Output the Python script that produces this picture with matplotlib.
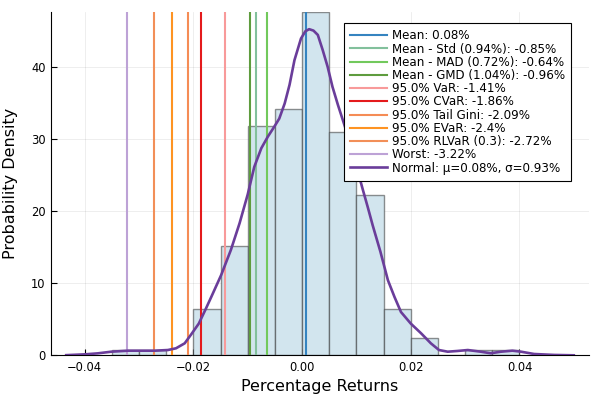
import matplotlib
matplotlib.use("Agg")
import matplotlib.pyplot as plt

# Histogram (bin edges start at -0.035, width 0.005), density values
bin_left = [-0.035, -0.030, -0.025, -0.020, -0.015, -0.010, -0.005, 0.000,
            0.005, 0.010, 0.015, 0.020, 0.025, 0.030, 0.035]
bin_width = 0.005
density = [0.79, 0.79, 0.0, 6.35, 15.08, 31.75, 34.13, 47.62,
           30.95, 22.22, 6.35, 2.38, 0.0, 0.79, 0.79]

# Risk measure lines
risk_labels = ["Mean: 0.08%", "Mean - Std (0.94%): -0.85%", "Mean - MAD (0.72%): -0.64%",
               "Mean - GMD (1.04%): -0.96%", "95.0% VaR: -1.41%", "95.0% CVaR: -1.86%",
               "95.0% Tail Gini: -2.09%", "95.0% EVaR: -2.4%", "95.0% RLVaR (0.3): -2.72%",
               "Worst: -3.22%"]
risk_values = [0.0008, -0.0085, -0.0064, -0.0096, -0.0141, -0.0186,
               -0.0209, -0.0240, -0.0272, -0.0322]
risk_colors = ["#3584c0", "#82c09c", "#72c95c", "#5e9c3e", "#f89a9a", "#e41a1c",
               "#f58c55", "#fe9322", "#f28f58", "#bda2d6"]

# Density curve
kde_x = [-0.0434, -0.0400, -0.0376, -0.0351, -0.0320, -0.0296, -0.0271, -0.0247, -0.0232,
         -0.0216, -0.0204, -0.0190, -0.0178, -0.0167, -0.0149, -0.0131, -0.0115, -0.0100,
         -0.0088, -0.0075, -0.0063, -0.0051, -0.0042, -0.0032, -0.0023, -0.0014, -0.0002,
         0.0006, 0.0013, 0.0021, 0.0029, 0.0038, 0.0047, 0.0056, 0.0066, 0.0075, 0.0081,
         0.0090, 0.0100, 0.0112, 0.0121, 0.0130, 0.0144, 0.0158, 0.0170, 0.0182, 0.0200,
         0.0219, 0.0237, 0.0252, 0.0268, 0.0286, 0.0305, 0.0329, 0.0347, 0.0366, 0.0387,
         0.0403, 0.0427, 0.0464, 0.0500]
kde_y = [0.02, 0.13, 0.27, 0.50, 0.64, 0.64, 0.64, 0.73, 0.97,
         1.66, 2.90, 4.40, 6.30, 8.10, 11.1, 14.6, 18.3, 22.3,
         26.1, 28.7, 30.3, 31.7, 32.8, 34.9, 37.5, 40.9, 43.9,
         44.9, 45.2, 45.0, 44.4, 42.3, 40.0, 37.2, 34.7, 32.6, 31.2,
         28.9, 26.2, 22.9, 20.5, 18.0, 14.4, 10.4, 8.1, 6.0, 4.4,
         3.05, 1.66, 0.73, 0.50, 0.60, 0.73, 0.50, 0.28, 0.50, 0.64,
         0.50, 0.18, 0.05, 0.0]
kde_label = "Normal: μ=0.08%, σ=0.93%"
kde_color = "#6a3d9a"

x_ticks = [-0.04, -0.02, 0.00, 0.02, 0.04]
y_ticks = [0, 10, 20, 30, 40]

plt.rcParams["font.family"] = ["DejaVu Sans"]

fig = plt.figure(figsize=(6, 4), dpi=100)
ax = fig.add_axes([51 / 600, 1 - 355.3 / 400, (589 - 51) / 600, (355.3 - 11.7) / 400])

ax.bar(bin_left, density, width=bin_width, align="edge", color="#d2e5ee",
       edgecolor=(0.15, 0.15, 0.15, 0.5), linewidth=1.0, zorder=2)

for val, lab, col in zip(risk_values, risk_labels, risk_colors):
    ax.axvline(val, color=col, linewidth=1.5, label=lab, zorder=3)

ax.plot(kde_x, kde_y, color=kde_color, linewidth=1.9, label=kde_label, zorder=4,
        solid_joinstyle="round")

ax.set_xlim(-0.0462, 0.0528)
ax.set_ylim(0, 47.62)
ax.set_xticks(x_ticks)
ax.set_yticks(y_ticks)
ax.xaxis.set_major_formatter(matplotlib.ticker.FuncFormatter(
    lambda v, p: ("%.2f" % v).replace("-", "\u2212") if abs(v) > 1e-9 else "0.00"))

ax.grid(True, color="black", alpha=0.08, linewidth=0.6, zorder=0)
ax.set_axisbelow(True)
for s in ["top", "right"]:
    ax.spines[s].set_visible(False)
for s in ["left", "bottom"]:
    ax.spines[s].set_linewidth(0.8)
ax.tick_params(direction="in", length=4, width=0.8, labelsize=8.3, pad=4)

ax.set_xlabel("Percentage Returns", fontsize=11.5)
ax.set_ylabel("Probability Density", fontsize=11.5)
ax.yaxis.set_label_coords(-0.062, 0.5)

leg = ax.legend(loc="upper right", bbox_to_anchor=(570.7 / 600, 1 - 23.3 / 400),
                bbox_transform=fig.transFigure, borderaxespad=0, fontsize=8.6,
                fancybox=False, framealpha=1.0, edgecolor="black",
                labelspacing=0.02, handlelength=3.1, handletextpad=0.4,
                borderpad=0.5)
leg.get_frame().set_linewidth(0.8)

fig.savefig("out.png", dpi=100)
